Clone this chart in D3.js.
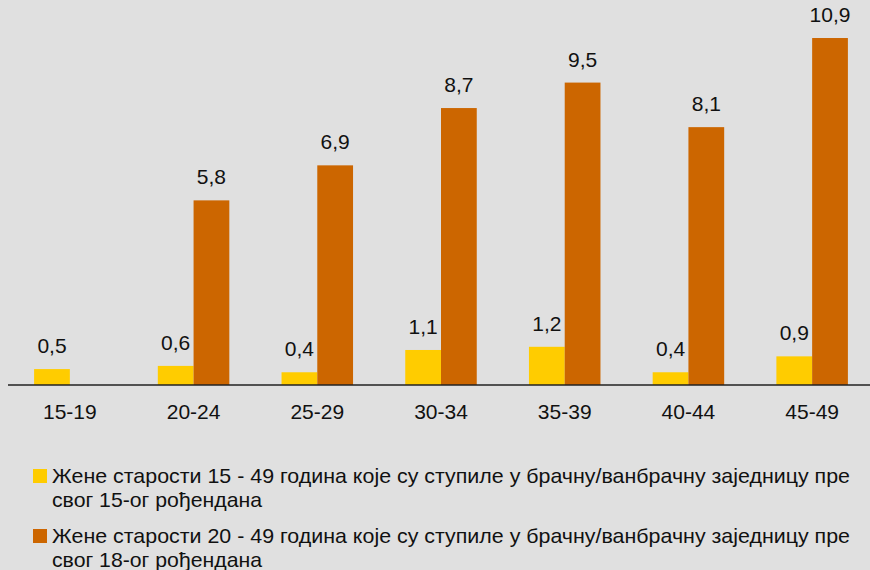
<!DOCTYPE html>
<html>
<head>
<meta charset="utf-8">
<script src="https://cdn.jsdelivr.net/npm/d3@7"></script>
<style>
  body { margin: 0; background: #e0e0e0; }
  svg { display: block; font-family: "Liberation Sans", Arial, sans-serif; }
</style>
</head>
<body>
<div id="chart"></div>
<script>
// 年齢グループ
const categories = ["15-19", "20-24", "25-29", "30-34", "35-39", "40-44", "45-49"];
const seriesNames = ["s15", "s18"];
const values15 = [0.5, 0.6, 0.4, 1.1, 1.2, 0.4, 0.9];
const values18 = [null, 5.8, 6.9, 8.7, 9.5, 8.1, 10.9];
const colors = ["#ffcc00", "#cc6600"];
const legendLines = [
  ["Жене старости 15 - 49 година које су ступиле у брачну/ванбрачну заједницу пре", "свог 15-ог рођендана"],
  ["Жене старости 20 - 49 година које су ступиле у брачну/ванбрачну заједницу пре", "свог 18-ог рођендана"]
];

drawChart();

function drawChart() {
    const width = 870;
    const height = 570;
    const baseY = 385;

    const svg = d3.select("#chart").append("svg")
        .attr("width", width)
        .attr("height", height);

    svg.append("rect")
        .attr("width", width)
        .attr("height", height)
        .attr("fill", "#e0e0e0");

    // スケール
    const x0 = d3.scaleBand()
        .domain(categories)
        .range([8, 874])
        .padding(0);

    const x1 = d3.scaleBand()
        .domain(seriesNames)
        .range([0, x0.bandwidth()])
        .paddingInner(0)
        .paddingOuter(0.73);

    const y = d3.scaleLinear()
        .domain([0, 12])
        .range([baseY, 3]);

    const rows = categories.map((c, i) => ({
        cat: c,
        vals: [
            { key: "s15", v: values15[i], color: colors[0] },
            { key: "s18", v: values18[i], color: colors[1] }
        ].filter(d => d.v !== null)
    }));

    const groups = svg.append("g")
        .selectAll("g")
        .data(rows)
        .join("g")
        .attr("transform", d => "translate(" + x0(d.cat) + ",0)");

    groups.selectAll("rect")
        .data(d => d.vals)
        .join("rect")
        .attr("x", d => x1(d.key))
        .attr("y", d => y(d.v))
        .attr("width", x1.bandwidth())
        .attr("height", d => baseY - y(d.v))
        .attr("fill", d => d.color);

    // 数値ラベル
    groups.selectAll("text")
        .data(d => d.vals)
        .join("text")
        .attr("x", d => x1(d.key) + x1.bandwidth() / 2)
        .attr("y", d => y(d.v) - 16)
        .attr("text-anchor", "middle")
        .attr("font-size", "21px")
        .attr("fill", "#111")
        .text(d => d3.format(".1f")(d.v).replace(".", ","));

    // 横軸
    const xAxis = svg.append("g")
        .attr("transform", "translate(0," + baseY + ")")
        .call(d3.axisBottom(x0).tickSize(0).tickPadding(0));
    xAxis.select(".domain").remove();
    xAxis.selectAll("text")
        .attr("font-size", "21px")
        .attr("font-family", "Liberation Sans, Arial, sans-serif")
        .attr("fill", "#111")
        .attr("dy", null)
        .attr("y", 34);

    svg.append("line")
        .attr("x1", 8)
        .attr("x2", width)
        .attr("y1", baseY)
        .attr("y2", baseY)
        .attr("stroke", "#222")
        .attr("stroke-width", 1.5);

    // 凡例
    const legend = svg.append("g")
        .selectAll("g")
        .data(legendLines)
        .join("g")
        .attr("transform", (d, i) => "translate(0," + (i * 60) + ")");

    legend.append("rect")
        .attr("x", 33)
        .attr("y", 469)
        .attr("width", 14)
        .attr("height", 14)
        .attr("fill", (d, i) => colors[i]);

    legend.append("text")
        .attr("x", 52)
        .attr("y", 483)
        .attr("font-size", "21px")
        .attr("fill", "#111")
        .attr("textLength", 798)
        .attr("lengthAdjust", "spacingAndGlyphs")
        .text(d => d[0]);

    legend.append("text")
        .attr("x", 52)
        .attr("y", 507)
        .attr("font-size", "21px")
        .attr("fill", "#111")
        .attr("textLength", 210)
        .attr("lengthAdjust", "spacingAndGlyphs")
        .text(d => d[1]);
}
</script>
</body>
</html>
